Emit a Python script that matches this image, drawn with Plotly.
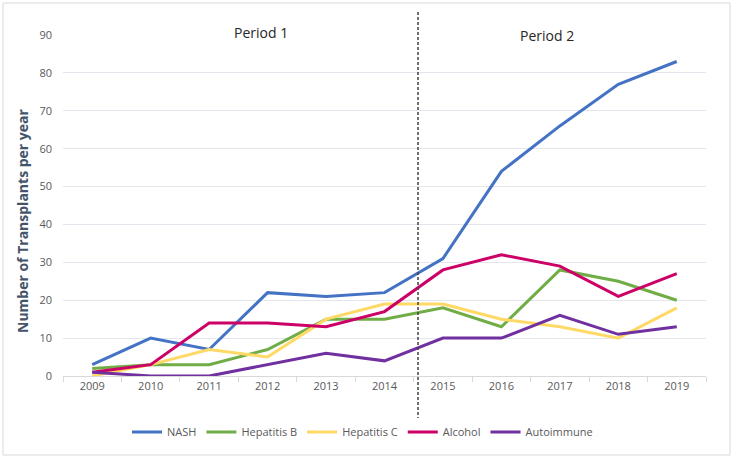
import plotly.graph_objects as go

years = ["2009", "2010", "2011", "2012", "2013", "2014", "2015", "2016", "2017", "2018", "2019"]
nash = [3, 10, 7, 22, 21, 22, 31, 54, 66, 77, 83]
hep_b = [2, 3, 3, 7, 15, 15, 18, 13, 28, 25, 20]
hep_c = [0, 3, 7, 5, 15, 19, 19, 15, 13, 10, 18]
alcohol = [1, 3, 14, 14, 13, 17, 28, 32, 29, 21, 27]
autoimmune = [1, 0, 0, 3, 6, 4, 10, 10, 16, 11, 13]

series = [
    ("NASH", nash, "#4472C4"),
    ("Hepatitis B", hep_b, "#70AD47"),
    ("Hepatitis C", hep_c, "#FFD966"),
    ("Alcohol", alcohol, "#CC0066"),
    ("Autoimmune", autoimmune, "#7030A0"),
]

W, H = 733, 458
ml, mr, mt, mb = 63, 27, 35, 82
pw = W - ml - mr
ph = H - mt - mb

def px_x(x):
    return (x - ml) / pw

def px_y(y):
    return (H - mb - y) / ph

fig = go.Figure()
for name, vals, color in series:
    fig.add_trace(go.Scatter(x=years, y=vals, name=name, mode="lines",
                             line=dict(color=color, width=3)))

fig.update_layout(
    width=W, height=H,
    margin=dict(l=ml, r=mr, t=mt, b=mb),
    paper_bgcolor="white", plot_bgcolor="white",
    font=dict(family="Open Sans, Liberation Sans, sans-serif", color="#595959", size=11),
    showlegend=True,
    legend=dict(orientation="h", x=px_x(127), xanchor="left", y=px_y(432), yanchor="middle",
                font=dict(size=11, color="#595959"), itemwidth=30, tracegroupgap=0,
                entrywidth=0),
    xaxis=dict(type="category", range=[-0.5, 10.5], showgrid=False, showline=True,
               linecolor="#D9D9D9",
               ticks="outside", tickson="boundaries", ticklen=5, tickcolor="#D9D9D9",
               tickfont=dict(size=11, color="#595959"), fixedrange=True),
    yaxis=dict(range=[0, 90], dtick=10, showgrid=True, gridcolor="#E3E6EC", zeroline=False,
               showline=False, tickfont=dict(size=11, color="#595959"),
               ticklabelstandoff=10, fixedrange=True),
    shapes=[
        dict(type="line", xref="paper", yref="paper", x0=px_x(418), x1=px_x(418),
             y0=px_y(12), y1=px_y(428), line=dict(color="#404040", width=1.5, dash="3px,2px")),
        dict(type="rect", xref="paper", yref="paper", x0=px_x(3), x1=px_x(730),
             y0=px_y(455), y1=px_y(3), line=dict(color="#D9D9D9", width=1)),
    ],
    annotations=[
        dict(text="Period 1", xref="paper", yref="paper", x=px_x(232), y=px_y(21),
             showarrow=False, font=dict(size=14, color="#262626")),
        dict(text="Period 2", xref="paper", yref="paper", x=px_x(576), y=px_y(24),
             showarrow=False, font=dict(size=14, color="#262626")),
        dict(text="<b>Number of Transplants per year</b>", xref="paper", yref="paper",
             x=px_x(22), y=px_y(221), xanchor="center", yanchor="middle",
             textangle=-90, showarrow=False,
             font=dict(size=14, color="#44546A")),
    ],
)

fig.write_html("out.html", config={"displayModeBar": False},
               post_script="document.body.style.margin='0px';document.body.style.overflow='hidden';")
